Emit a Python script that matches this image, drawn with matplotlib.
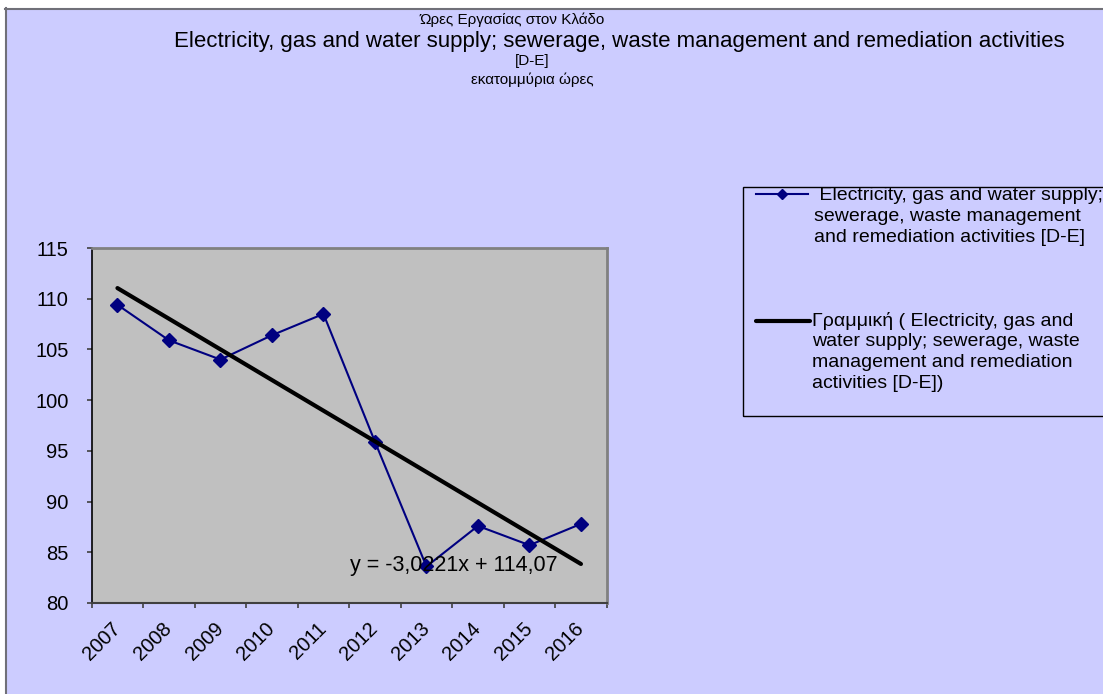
import matplotlib.pyplot as plt
from matplotlib.patches import Rectangle
from matplotlib.lines import Line2D
import numpy as np

plt.rcParams['font.family'] = ['Liberation Sans', 'DejaVu Sans']

# hours worked per year (millions)
years = ['2007', '2008', '2009', '2010', '2011', '2012', '2013', '2014', '2015', '2016']
hours = [109.4, 105.9, 104.0, 106.4, 108.5, 95.9, 83.6, 87.6, 85.7, 87.8]

# linear trend as printed on the chart
trend_slope = -3.0221
trend_intercept = 114.07

title_lines = ['Ώρες Εργασίας στον Κλάδο',
               'Electricity, gas and water supply; sewerage, waste management and remediation activities',
               '[D-E]',
               'εκατομμύρια ώρες']
series_label = [' Electricity, gas and water supply;',
                'sewerage, waste management',
                'and remediation activities [D-E]']
trend_label = ['Γραμμική ( Electricity, gas and',
               'water supply; sewerage, waste',
               'management and remediation',
               'activities [D-E])']

W, H = 1103, 694
fig = plt.figure(figsize=(W / 100, H / 100), dpi=100, facecolor='white')


def fx(px):
    return px / W


def fy(py):
    return 1 - py / H


# chart area background with its frame
fig.add_artist(Rectangle((fx(5), 0), 1.0, fy(8), transform=fig.transFigure,
                         facecolor='#CCCCFF', edgecolor='none', zorder=0))
fig.add_artist(Line2D([fx(5.5), fx(5.5)], [0, fy(8)], color='#707078', lw=1.5))
fig.add_artist(Line2D([fx(5), 1], [fy(8.5), fy(8.5)], color='#707078', lw=1.5))

title_pos = [(512, 20), (619, 41), (532, 61), (532, 80)]
title_size = [11, 16, 11, 11]
for txt, (px, py), fs in zip(title_lines, title_pos, title_size):
    fig.text(fx(px), fy(py), txt, ha='center', va='center', fontsize=fs)

ax = fig.add_axes([fx(91.7), fy(603), fx(606.7) - fx(91.7), fy(248) - fy(603)])
ax.set_facecolor('#C0C0C0')

x = np.arange(1, len(years) + 1)
ax.plot(x, hours, color='#000080', lw=1.5, marker='D', ms=7, zorder=3)
tx = np.array([x[0], x[-1]])
ax.plot(tx, trend_slope * tx + trend_intercept, color='black', lw=3,
        solid_capstyle='round', zorder=4)

ax.set_xlim(0.5, len(years) + 0.5)
ax.set_ylim(80, 115)
ax.set_yticks(np.arange(80, 116, 5))
ax.set_xticks(np.arange(0.5, len(years) + 1, 1))
ax.set_xticklabels([])
ax.set_xticks(x, minor=True)
ax.set_xticklabels(years, minor=True, rotation=45, ha='right', va='center',
                   rotation_mode='anchor', fontsize=14.5)
ax.tick_params(axis='x', which='major', direction='out', length=3.6, width=1.2, color='#404040')
ax.tick_params(axis='x', which='minor', length=0, pad=16)
ax.tick_params(axis='y', direction='out', length=3.6, width=1.2, color='#404040',
               labelsize=14.5, pad=13)

ax.spines['left'].set_color('black')
ax.spines['left'].set_linewidth(1.2)
ax.spines['bottom'].set_color('#404040')
ax.spines['bottom'].set_linewidth(1.5)
ax.spines['top'].set_color('#808080')
ax.spines['top'].set_linewidth(2)
ax.spines['right'].set_color('#808080')
ax.spines['right'].set_linewidth(2)

fig.text(fx(350), fy(565), 'y = -3,0221x + 114,07', ha='left', va='center',
         fontsize=15.5, zorder=5)

# legend drawn by hand to keep the Excel layout
fig.add_artist(Rectangle((fx(743), fy(416)), 1.0, fy(187) - fy(416),
                         transform=fig.transFigure, facecolor='none',
                         edgecolor='black', lw=1))
fig.add_artist(Line2D([fx(756), fx(808)], [fy(194), fy(194)], color='#000080', lw=1.5))
fig.add_artist(Line2D([fx(782)], [fy(194)], color='#000080', marker='D', ms=5))
fig.add_artist(Line2D([fx(756), fx(810)], [fy(321), fy(321)], color='black', lw=3,
                      solid_capstyle='round'))
for i, line in enumerate(series_label):
    fig.text(fx(814), fy(195.5 + 21 * i), line, ha='left', va='center', fontsize=14)
for i, line in enumerate(trend_label):
    fig.text(fx(812), fy(321.5 + 20.5 * i), line, ha='left', va='center', fontsize=14)

fig.savefig('out.png', dpi=100, facecolor='white')
